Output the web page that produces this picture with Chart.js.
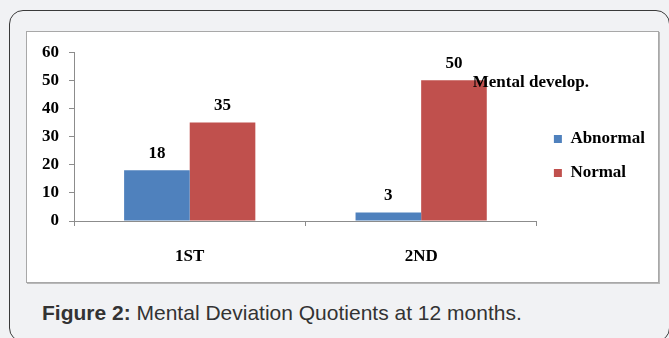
<!DOCTYPE html>
<html>
  <head>
    <title>Mental Deviation Quotients</title>
    <script src="https://cdn.jsdelivr.net/npm/chart.js@4"></script>
    <style>
      html, body { margin: 0; padding: 0; background: #f1f2f4; }
      body { width: 669px; height: 338px; position: relative; overflow: hidden; }
      #frame {
        position: absolute; left: 9px; top: 10px; width: 661px; height: 332px;
        border: 1px solid #3a3a3a; border-radius: 14px; box-sizing: border-box;
      }
      #container {
        position: absolute; left: 26px; top: 31px; width: 633px; height: 252px;
        background: #fff; border: 1px solid #a8a8a8; box-shadow: 1px 1px 0 #b8b8b8;
        box-sizing: border-box;
      }
      #canvas { display: block; }
      #caption {
        position: absolute; left: 42px; top: 301px;
        font-family: "Liberation Sans", Arial, sans-serif; font-size: 21px; color: #333;
        white-space: nowrap;
      }
    </style>
  </head>

  <body>
    <div id="frame"></div>
    <div id="container">
      <canvas id="canvas" width="631" height="250"></canvas>
    </div>
    <div id="caption"><b>Figure 2:</b> Mental Deviation Quotients at 12 months.</div>
    <script>
      const categories = ['1ST', '2ND'];
      const abnormal = [18, 3];
      const normal = [35, 50];
      const seriesNames = ['Abnormal', 'Normal'];
      const chartTitle = 'Mental develop.';

      const serif = { family: '"Liberation Serif", "DejaVu Serif", serif', size: 17, weight: 'bold' };

      // value labels above the bars plus the stray title next to the tall bar
      const labelsPlugin = {
        id: 'barLabels',
        afterDatasetsDraw(chart) {
          const ctx = chart.ctx;
          ctx.save();
          ctx.font = `bold 17px ${serif.family}`;
          ctx.fillStyle = '#000';
          ctx.textAlign = 'center';
          ctx.textBaseline = 'middle';
          chart.data.datasets.forEach((ds, i) => {
            chart.getDatasetMeta(i).data.forEach((bar, j) => {
              ctx.fillText(String(ds.data[j]), bar.x, bar.y - 17);
            });
          });
          const tall = chart.getDatasetMeta(1).data[1];
          ctx.textAlign = 'left';
          ctx.fillText(chartTitle, tall.x + tall.width / 2 - 14, tall.y + 2);
          ctx.restore();
        },
      };

      window.onload = () => {
        const ctx = document.getElementById('canvas').getContext('2d');
        window.myBar = new Chart(ctx, {
          type: 'bar',
          data: {
            labels: categories,
            datasets: [
              { label: seriesNames[0], data: abnormal, backgroundColor: '#4f81bd' },
              { label: seriesNames[1], data: normal, backgroundColor: '#c0504d' },
            ],
          },
          options: {
            responsive: false,
            animation: false,
            categoryPercentage: 0.567,
            barPercentage: 1,
            layout: { padding: { left: 5, top: 14, bottom: 16, right: 3 } },
            plugins: {
              title: { display: false },
              tooltip: { enabled: false },
              legend: {
                position: 'right',
                labels: {
                  boxWidth: 8,
                  boxHeight: 8,
                  padding: 17,
                  color: '#000',
                  font: serif,
                },
              },
            },
            scales: {
              x: {
                grid: { offset: true, drawOnChartArea: false, drawTicks: true, tickLength: 5, color: '#8c8c8c' },
                border: { color: '#8c8c8c' },
                ticks: { color: '#000', font: serif, padding: 20, maxRotation: 0 },
                afterFit(scale) { scale.height = 45; },
              },
              y: {
                min: 0,
                max: 60,
                ticks: { stepSize: 10, color: '#000', font: serif, padding: 10 },
                grid: { drawOnChartArea: false, drawTicks: true, tickLength: 5, color: '#8c8c8c' },
                border: { color: '#8c8c8c' },
              },
            },
          },
          plugins: [labelsPlugin],
        });
      };
    </script>
  </body>
</html>
